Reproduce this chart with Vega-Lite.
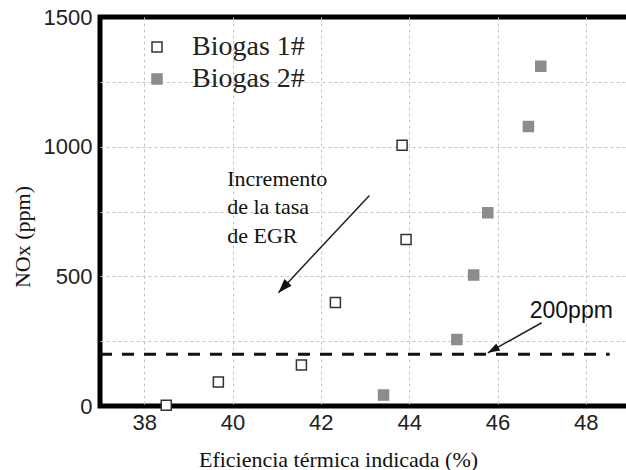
{
  "$schema": "https://vega.github.io/schema/vega-lite/v6.json",
  "width": 530,
  "height": 389,
  "autosize": {"type": "none"},
  "padding": {"left": 100, "top": 17, "right": 0, "bottom": 64},
  "background": "white",
  "config": {
    "view": {"stroke": "black", "strokeWidth": 5, "fill": null},
    "axis": {
      "domain": false,
      "ticks": true,
      "tickOpacity": 0,
      "gridColor": "#c4c4c4",
      "gridDash": [3, 3],
      "gridWidth": 1,
      "labelFont": "Liberation Sans",
      "labelFontSize": 22,
      "labelColor": "#222222",
      "titleFont": "Liberation Serif",
      "titleFontSize": 22,
      "titleFontWeight": "normal",
      "titleColor": "#111111"
    }
  },
  "datasets": {
    "pts": [
      {"serie": "Biogas 1#", "x": 38.5, "y": 3},
      {"serie": "Biogas 1#", "x": 39.68, "y": 93},
      {"serie": "Biogas 1#", "x": 41.56, "y": 158},
      {"serie": "Biogas 1#", "x": 42.33, "y": 399},
      {"serie": "Biogas 1#", "x": 43.93, "y": 642},
      {"serie": "Biogas 1#", "x": 43.84, "y": 1005},
      {"serie": "Biogas 2#", "x": 43.42, "y": 42},
      {"serie": "Biogas 2#", "x": 45.08, "y": 256},
      {"serie": "Biogas 2#", "x": 45.46, "y": 505},
      {"serie": "Biogas 2#", "x": 45.78, "y": 745},
      {"serie": "Biogas 2#", "x": 46.7, "y": 1078},
      {"serie": "Biogas 2#", "x": 46.98, "y": 1310}
    ],
    "arrows": [
      {"name": "egr", "x": 41.04, "y": 437, "x2": 43.1, "y2": 812},
      {"name": "ppm", "x": 45.78, "y": 205, "x2": 47.0, "y2": 321}
    ],
    "xticks": [{"x": 38}, {"x": 40}, {"x": 42}, {"x": 44}, {"x": 46}, {"x": 48}],
    "yticksMajor": [{"y": 0}, {"y": 500}, {"y": 1000}, {"y": 1500}],
    "yticksMinor": [{"y": 250}, {"y": 750}, {"y": 1250}]
  },
  "encoding": {
    "x": {
      "field": "x",
      "type": "quantitative",
      "title": "Eficiencia térmica indicada (%)",
      "scale": {"domain": [37, 49], "nice": false, "zero": false},
      "axis": {
        "values": [38, 40, 42, 44, 46, 48],
        "offset": -11,
        "tickSize": 11,
        "labelPadding": 6.5,
        "titleX": 238,
        "titleY": 71,
        "titleAlign": "center",
        "titleBaseline": "alphabetic"
      }
    },
    "y": {
      "field": "y",
      "type": "quantitative",
      "title": "NOx (ppm)",
      "scale": {"domain": [0, 1500], "nice": false},
      "axis": {
        "values": [0, 250, 500, 750, 1000, 1250, 1500],
        "format": "d",
        "labelExpr": "datum.value % 500 === 0 ? datum.label : ''",
        "gridOpacity": {"condition": {"test": "datum.value === 0 || datum.value === 1500", "value": 0}, "value": 1},
        "offset": -13,
        "tickSize": 13,
        "labelPadding": 8,
        "titleX": -91,
        "titleY": 219.5,
        "titleAngle": -90,
        "titleAlign": "center",
        "titleBaseline": "middle"
      }
    }
  },
  "layer": [
    {
      "data": {"values": [{"x": 37, "x2": 48.54, "y": 200}]},
      "mark": {"type": "rule", "color": "#111111", "strokeWidth": 3, "strokeDash": [12, 10]},
      "encoding": {"x2": {"field": "x2"}}
    },
    {
      "data": {"name": "xticks"},
      "mark": {"type": "tick", "orient": "vertical", "size": 11, "thickness": 4, "color": "#000000", "opacity": 1, "yOffset": -5.5},
      "encoding": {"y": {"datum": 0, "type": "quantitative"}}
    },
    {
      "data": {"name": "yticksMajor"},
      "mark": {"type": "tick", "orient": "horizontal", "size": 13, "thickness": 4, "color": "#000000", "opacity": 1, "xOffset": 6.5},
      "encoding": {"x": {"datum": 37, "type": "quantitative"}}
    },
    {
      "data": {"name": "yticksMinor"},
      "mark": {"type": "tick", "orient": "horizontal", "size": 7, "thickness": 4, "color": "#000000", "opacity": 1, "xOffset": 3.5},
      "encoding": {"x": {"datum": 37, "type": "quantitative"}}
    },
    {
      "data": {"name": "pts"},
      "mark": {"type": "point", "shape": "square", "size": 100, "strokeWidth": 1.5, "opacity": 1},
      "encoding": {
        "fill": {
          "field": "serie",
          "type": "nominal",
          "scale": {"domain": ["Biogas 1#", "Biogas 2#"], "range": ["white", "#8c8c8e"]},
          "legend": {
            "title": null, "orient": "none", "legendX": 43, "legendY": 16,
            "symbolType": "square", "symbolSize": 100, "symbolStrokeWidth": 1.5,
            "labelFont": "Liberation Serif", "labelFontSize": 28, "labelColor": "#222222",
            "labelOffset": 21, "rowPadding": 4, "padding": 0
          }
        },
        "stroke": {
          "field": "serie",
          "type": "nominal",
          "scale": {"domain": ["Biogas 1#", "Biogas 2#"], "range": ["#333333", "#8c8c8e"]},
          "legend": {
            "title": null, "orient": "none", "legendX": 43, "legendY": 16,
            "symbolType": "square", "symbolSize": 100, "symbolStrokeWidth": 1.5,
            "labelFont": "Liberation Serif", "labelFontSize": 28, "labelColor": "#222222",
            "labelOffset": 21, "rowPadding": 4, "padding": 0
          }
        }
      }
    },
    {
      "data": {"name": "arrows"},
      "mark": {"type": "rule", "color": "#222222", "strokeWidth": 1.5},
      "encoding": {"x2": {"field": "x2"}, "y2": {"field": "y2"}}
    },
    {
      "data": {"name": "arrows"},
      "transform": [{"filter": "datum.name === 'egr'"}],
      "mark": {"type": "point", "shape": "M0,0L0.7,2L-0.7,2Z", "size": 196, "filled": true, "color": "#111111", "opacity": 1, "angle": 223.2, "strokeWidth": 0},
      "encoding": {}
    },
    {
      "data": {"name": "arrows"},
      "transform": [{"filter": "datum.name === 'ppm'"}],
      "mark": {"type": "point", "shape": "M0,0L0.67,2L-0.67,2Z", "size": 144, "filled": true, "color": "#111111", "opacity": 1, "angle": 240.9, "strokeWidth": 0},
      "encoding": {}
    },
    {
      "data": {"values": [{"x": 39.88, "y": 850, "label": ["Incremento", "de la tasa", "de EGR"]}]},
      "mark": {"type": "text", "align": "left", "baseline": "alphabetic", "font": "Liberation Serif", "fontSize": 22, "lineHeight": 28.5, "color": "#111111"},
      "encoding": {"text": {"field": "label"}}
    },
    {
      "data": {"values": [{"x": 46.73, "y": 340, "label": "200ppm"}]},
      "mark": {"type": "text", "align": "left", "baseline": "alphabetic", "font": "Liberation Sans", "fontSize": 23, "color": "#111111"},
      "encoding": {"text": {"field": "label"}}
    }
  ]
}
